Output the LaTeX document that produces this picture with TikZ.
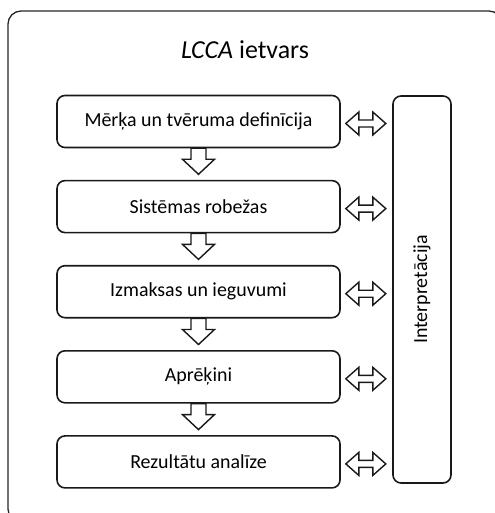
\documentclass[tikz,border=0pt]{standalone}
\usepackage{fontspec}
\setmainfont{Carlito}
\usetikzlibrary{positioning}

\newcommand{\flowarrow}[1]{\draw[blockarrow] ([xshift=-7.5bp]#1.south) -- ++(0,11) -- ++(-8.5,0) -- ++(16,15) -- ++(16,-15) -- ++(-8.5,0) -- ++(0,-11) -- cycle;}
\newcommand{\swaparrow}[1]{\draw[blockarrow] ([xshift=5bp,yshift=-2bp]#1.east) -- ++(13,-11.5) -- ++(0,8) -- ++(14,0) -- ++(0,-8) -- ++(13,11.5) -- ++(-13,11.5) -- ++(0,-8) -- ++(-14,0) -- ++(0,8) -- cycle;}

\begin{document}
\begin{tikzpicture}[x=1bp,y=-1bp,node distance=31.5bp,
	stage/.style={draw=black!90, line width=1.6bp, rounded corners=8bp, minimum width=283bp, minimum height=52bp, font=\fontsize{20}{24}\selectfont},
	blockarrow/.style={draw=black!90, fill=white, line width=1.4bp, line join=miter}]
		\clip (0,0) rectangle (495,513);
		\draw[black!85, line width=1.3bp, rounded corners=13bp] (8,11) rectangle (502,522);
		\node (title) at (245,50) {\fontsize{26}{30}\selectfont\textit{LCCA} ietvars};

		\node[stage] (s1) at (198.5,121.5) {Mērķa un tvēruma definīcija};
		\node[stage, below=of s1] (s2) {Sistēmas robežas};
		\node[stage, below=of s2] (s3) {Izmaksas un ieguvumi};
		\node[stage, below=of s3] (s4) {Aprēķini};
		\node[stage, below=of s4] (s5) {Rezultātu analīze};
		\node[stage, minimum width=58bp, minimum height=387bp] (interp) at (422,289.5) {};
		\node[rotate=90, font=\fontsize{20}{24}\selectfont] (interplabel) at (interp.center) {Interpretācija};

		\flowarrow{s1}
		\flowarrow{s2}
		\flowarrow{s3}
		\flowarrow{s4}

		\swaparrow{s1}
		\swaparrow{s2}
		\swaparrow{s3}
		\swaparrow{s4}
		\swaparrow{s5}
	\end{tikzpicture}
\end{document}
